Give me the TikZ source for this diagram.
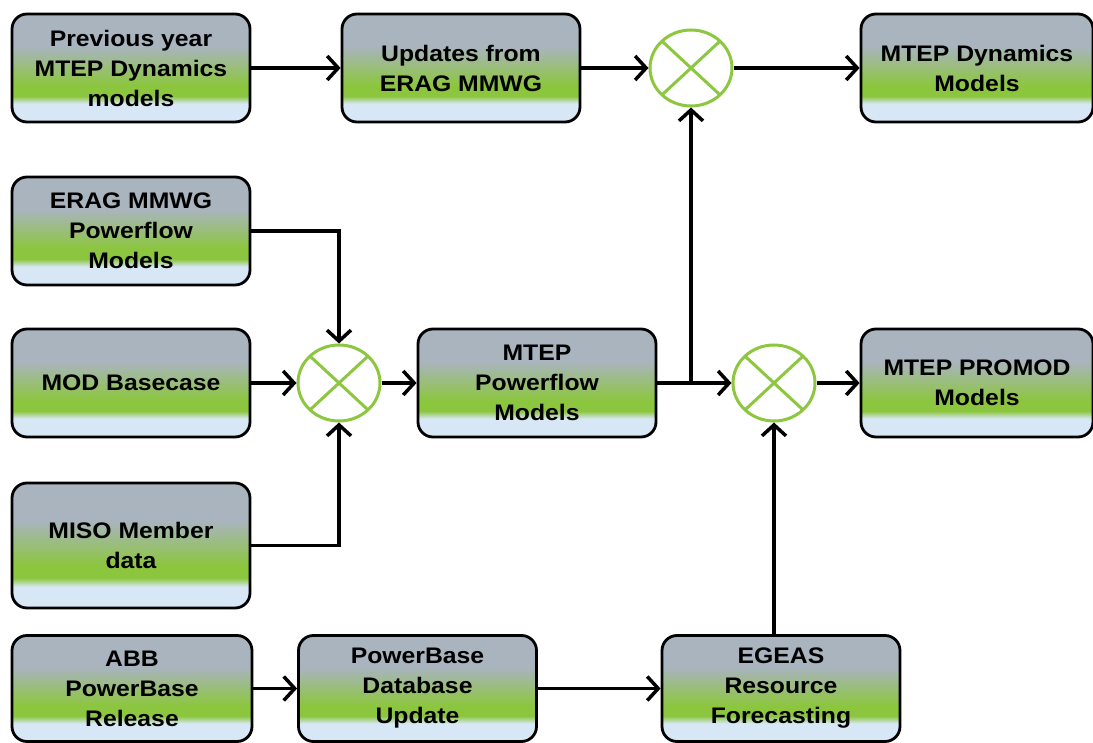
\documentclass[tikz,border=0pt]{standalone}
\usepackage{fontspec}
\setmainfont{Liberation Sans}[FakeStretch=1.1]
\usetikzlibrary{arrows.meta,shapes.geometric}
\definecolor{boxgray}{HTML}{A9B4BE}
\definecolor{boxgreen}{HTML}{8CC63F}
\definecolor{boxblue}{HTML}{D8E7F6}
\definecolor{mixgreen}{HTML}{8DC63F}
\pgfdeclareverticalshading{boxshade}{100bp}{color(0bp)=(boxblue); color(33.5bp)=(boxblue); color(37bp)=(boxgreen); color(42bp)=(boxgreen); color(60bp)=(boxgray); color(100bp)=(boxgray)}
\begin{document}
\begin{tikzpicture}[x=1pt, y=-1pt,
        box/.style={draw, line width=2.8pt, rounded corners=15pt, shading=boxshade,
            minimum width=238pt, minimum height=108pt, inner sep=0pt, align=center,
            font=\fontsize{22.5}{30}\selectfont\bfseries, text=black},
        mix/.style={ellipse, draw=mixgreen, line width=3pt, fill=white,
            minimum width=82pt, minimum height=76pt, inner sep=0pt,
            path picture={\draw[mixgreen, line width=3pt]
                (path picture bounding box.north west) -- (path picture bounding box.south east)
                (path picture bounding box.north east) -- (path picture bounding box.south west);}},
        flow/.style={line width=3.5pt, -{Straight Barb[length=11pt, width=24pt]}}]
            \useasboundingbox (0,0) rectangle (1093,743);
            \node[box] (prev) at (131,68) {Previous year\\MTEP Dynamics\\models};
            \node[box] (upd) at (461,68) {Updates from\\ERAG MMWG};
            \node[mix] (mixT) at (691,68) {};
            \node[box, minimum width=232pt] (dyn) at (977,68) {MTEP Dynamics\\Models};
            \node[box] (erag) at (131,231) {ERAG MMWG\\Powerflow\\Models};
            \node[box] (modb) at (131,383) {MOD Basecase};
            \node[mix] (mixL) at (339,383) {};
            \node[box] (pflow) at (537,383) {MTEP\\Powerflow\\Models};
            \node[mix] (mixR) at (774,383) {};
            \node[box, minimum width=232pt] (promod) at (977,383) {MTEP PROMOD\\Models};
            \node[box, minimum height=125pt] (miso) at (131,545.5) {MISO Member\\data};
            \node[box, minimum width=240pt, minimum height=106pt] (abb) at (132,688.5) {ABB\\PowerBase\\Release};
            \node[box, minimum height=106pt] (pbase) at (417.5,688.5) {PowerBase\\Database\\Update};
            \node[box, minimum height=106pt] (egeas) at (781,688.5) {EGEAS\\Resource\\Forecasting};
            \draw[flow] (prev) -- (upd);
            \draw[flow] (upd) -- (mixT);
            \draw[flow] (mixT) -- (dyn);
            \draw[flow] (erag.east) -| (mixL.north);
            \draw[flow] (modb) -- (mixL);
            \draw[flow] (miso.east) -| (mixL.south);
            \draw[flow] (mixL) -- (pflow);
            \draw[flow] (pflow) -- (mixR);
            \coordinate (split) at (mixT.south |- pflow.east);
            \draw[flow] (split) -- (mixT.south);
            \draw[flow] (mixR) -- (promod);
            \draw[flow] (abb) -- (pbase);
            \draw[flow] (pbase) -- (egeas);
            \draw[flow] (mixR.south |- egeas.north) -- (mixR.south);
        \end{tikzpicture}
\end{document}
